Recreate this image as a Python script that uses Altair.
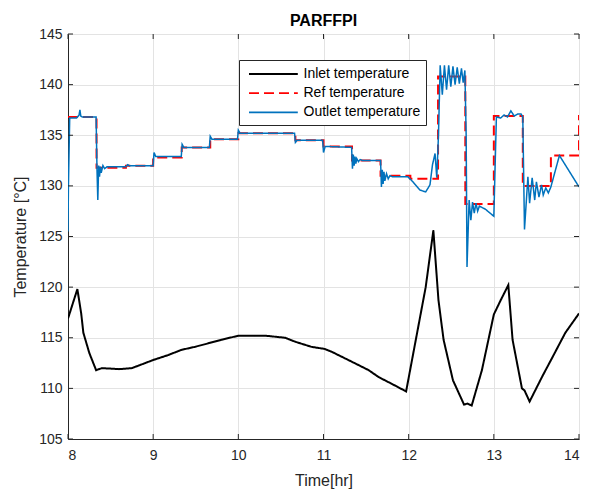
import altair as alt
import pandas as pd

# ---- data ----
inlet_time = [8.0, 8.11, 8.155, 8.18, 8.25, 8.33, 8.4, 8.6, 8.75, 9.0, 9.18, 9.33, 9.49, 9.67, 9.8, 10.0,
              10.32, 10.55, 10.67, 10.86, 11.01, 11.1, 11.34, 11.53, 11.65, 11.79, 11.97,
              12.2, 12.29, 12.35, 12.41, 12.52, 12.65, 12.69, 12.74, 12.86, 13.0, 13.08,
              13.17, 13.22, 13.33, 13.36, 13.42, 13.57, 13.69, 13.84, 14.0]
inlet_temp = [116.9, 119.8, 117.4, 115.5, 113.5, 111.8, 112.0, 111.9, 112.0, 112.8, 113.3, 113.8, 114.1, 114.5, 114.8, 115.2,
              115.2, 115.0, 114.6, 114.1, 113.9, 113.6, 112.6, 111.8, 111.1, 110.5, 109.7,
              120.0, 125.6, 118.7, 114.8, 110.8, 108.4, 108.5, 108.3, 111.8, 117.3, 118.7,
              120.2, 114.8, 110.0, 109.8, 108.7, 111.2, 113.1, 115.5, 117.4]

ref_time = [8.0, 8.335, 8.68, 9.0, 9.335, 9.67, 10.0, 10.67, 11.0, 11.335, 11.67, 12.02,
            12.345, 12.665, 13.0, 13.34, 13.67, 14.0]
ref_temp = [136.8, 131.8, 132.0, 132.8, 133.8, 134.6, 135.2, 134.5, 133.9, 132.5, 131.0, 130.7,
            140.8, 128.2, 136.9, 130.0, 133.0, 137.0]

outlet_time = [8.0, 8.005, 8.02, 8.1, 8.13, 8.14, 8.15, 8.17, 8.33, 8.34, 8.35, 8.36, 8.37, 8.38,
               8.39, 8.41, 8.43, 8.46, 8.68, 8.70, 8.72, 9.0, 9.01, 9.03, 9.33, 9.34, 9.36,
               9.66, 9.67, 9.69, 9.99, 10.0, 10.02, 10.66, 10.67, 10.69, 10.99, 11.0, 11.02,
               11.33, 11.34, 11.35, 11.36, 11.37, 11.38, 11.39, 11.41, 11.43, 11.46, 11.67,
               11.68, 11.69, 11.70, 11.71, 11.72, 11.74, 11.76, 11.78, 11.81, 11.99, 12.05,
               12.13, 12.2, 12.25, 12.28, 12.31, 12.33, 12.35, 12.37, 12.395, 12.42, 12.445,
               12.47, 12.495, 12.52, 12.545, 12.57, 12.595, 12.62, 12.64, 12.66, 12.675,
               12.685, 12.71, 12.73, 12.75, 12.77, 12.79, 12.81, 12.83, 12.9, 13.0, 13.03,
               13.08, 13.12, 13.16, 13.2, 13.24, 13.28, 13.32, 13.34, 13.36, 13.40, 13.42,
               13.45, 13.48, 13.50, 13.53, 13.56, 13.58, 13.61, 13.64, 13.67, 13.77, 14.0]
outlet_temp = [125.5, 130.0, 136.7, 136.7, 137.0, 137.5, 136.9, 136.8, 136.8, 131.8, 128.6, 132.0, 130.9, 131.9,
               131.3, 132.0, 131.7, 131.9, 131.9, 132.1, 132.0, 132.0, 133.3, 132.9, 132.9, 134.1, 133.8,
               133.8, 134.9, 134.6, 134.6, 135.5, 135.2, 135.2, 134.3, 134.5, 134.5, 133.3, 133.9,
               133.8, 131.7, 133.1, 132.0, 132.9, 132.2, 132.7, 132.4, 132.6, 132.5, 132.5,
               129.9, 131.6, 130.2, 131.4, 130.5, 131.2, 130.7, 131.0, 130.9, 130.9, 130.4,
               129.6, 129.4, 130.1, 132.1, 133.2, 130.8, 135.0, 141.9, 139.0, 141.9, 139.5,
               141.9, 139.8, 141.8, 140.0, 141.7, 140.1, 141.6, 140.2, 141.4, 135.0,
               122.0, 128.6, 126.6, 128.4, 127.3, 128.3, 127.5, 128.0, 127.7, 127.0, 136.8,
               136.7, 137.0, 136.8, 137.4, 136.9, 137.1, 137.1, 136.8, 125.7, 130.9, 128.3,
               130.8, 128.6, 130.4, 128.9, 130.1, 129.1, 129.8, 129.3, 129.9, 133.0, 129.9]

series_names = ["Inlet temperature", "Ref temperature", "Outlet temperature"]
series_colors = ["#000000", "#FF0000", "#0072BD"]
series_dash = [[1, 0], [10, 5], [1, 0]]
x_ticks = [8, 9, 10, 11, 12, 13, 14]
y_ticks = [105, 110, 115, 120, 125, 130, 135, 140, 145]

W, H = 511, 405
FONT = "Liberation Sans"
AX = "#262626"

inlet_df = pd.DataFrame({"t": inlet_time, "v": inlet_temp, "series": series_names[0]})
ref_df = pd.DataFrame({"t": ref_time, "v": ref_temp, "series": series_names[1]})
out_df = pd.DataFrame({"t": outlet_time, "v": outlet_temp, "series": series_names[2]})

xs = alt.Scale(domain=[8, 14], nice=False, zero=False)
ys = alt.Scale(domain=[105, 145], nice=False, zero=False)

xenc = alt.X("t:Q", scale=xs, title="Time[hr]",
             axis=alt.Axis(values=x_ticks, format="d", grid=True, ticks=False,
                           labelPadding=9, titlePadding=10))
yenc = alt.Y("v:Q", scale=ys, title="Temperature [°C]",
             axis=alt.Axis(values=y_ticks, format="d", grid=True, ticks=False,
                           labelPadding=6, titlePadding=10))

legend_kw = dict(title=None, orient="none", legendX=171, legendY=26,
                 symbolType="M-0.5,0H5.6", symbolSize=256,
                 symbolStrokeWidth=1.8, labelFontSize=14,
                 labelFont=FONT, labelColor="#000000",
                 fillColor="white", strokeColor=AX,
                 padding=5, rowPadding=3.2, labelOffset=41.5)
color = alt.Color("series:N",
                  scale=alt.Scale(domain=series_names, range=series_colors),
                  legend=alt.Legend(**legend_kw))
dash = alt.StrokeDash("series:N",
                      scale=alt.Scale(domain=series_names, range=series_dash),
                      legend=alt.Legend(**legend_kw))

inlet = alt.Chart(inlet_df).mark_line(strokeWidth=2, clip=True).encode(
    x=xenc, y=yenc, color=color, strokeDash=dash)
ref = alt.Chart(ref_df).mark_line(strokeWidth=2, interpolate="step-after", clip=True).encode(
    x=xenc, y=yenc, color=color, strokeDash=dash)
outlet = alt.Chart(out_df).mark_line(strokeWidth=1.5, clip=True).encode(
    x=xenc, y=yenc, color=color, strokeDash=dash)

xt = pd.DataFrame({"t": x_ticks})
yt = pd.DataFrame({"v": y_ticks})
tick_style = dict(color=AX, strokeWidth=1)
xb = alt.Chart(xt).mark_rule(**tick_style).encode(
    x=alt.X("t:Q", scale=xs), y=alt.value(H), y2=alt.value(H - 5))
xtp = alt.Chart(xt).mark_rule(**tick_style).encode(
    x=alt.X("t:Q", scale=xs), y=alt.value(0), y2=alt.value(5))
yl = alt.Chart(yt).mark_rule(**tick_style).encode(
    y=alt.Y("v:Q", scale=ys), x=alt.value(0), x2=alt.value(5))
yr = alt.Chart(yt).mark_rule(**tick_style).encode(
    y=alt.Y("v:Q", scale=ys), x=alt.value(W), x2=alt.value(W - 5))

chart = alt.layer(inlet, ref, outlet, xb, xtp, yl, yr).properties(
    width=W, height=H,
    autosize=alt.AutoSizeParams(type="none"),
    padding={"left": 68, "top": 34, "right": 11, "bottom": 51},
    title=alt.TitleParams("PARFFPI", font=FONT, fontSize=16, fontWeight="bold",
                          color="#000000", offset=-2, anchor="middle"),
).configure(background="white").configure_view(stroke=AX, strokeWidth=1).configure_axis(
    labelFont=FONT, labelFontSize=14, labelColor=AX,
    titleFont=FONT, titleFontSize=16, titleColor=AX, titleFontWeight="normal",
    gridColor="#e3e3e3", gridWidth=1, domainColor=AX, domainWidth=1,
)

chart.save("out.html", embed_options={"renderer": "svg", "actions": False})
